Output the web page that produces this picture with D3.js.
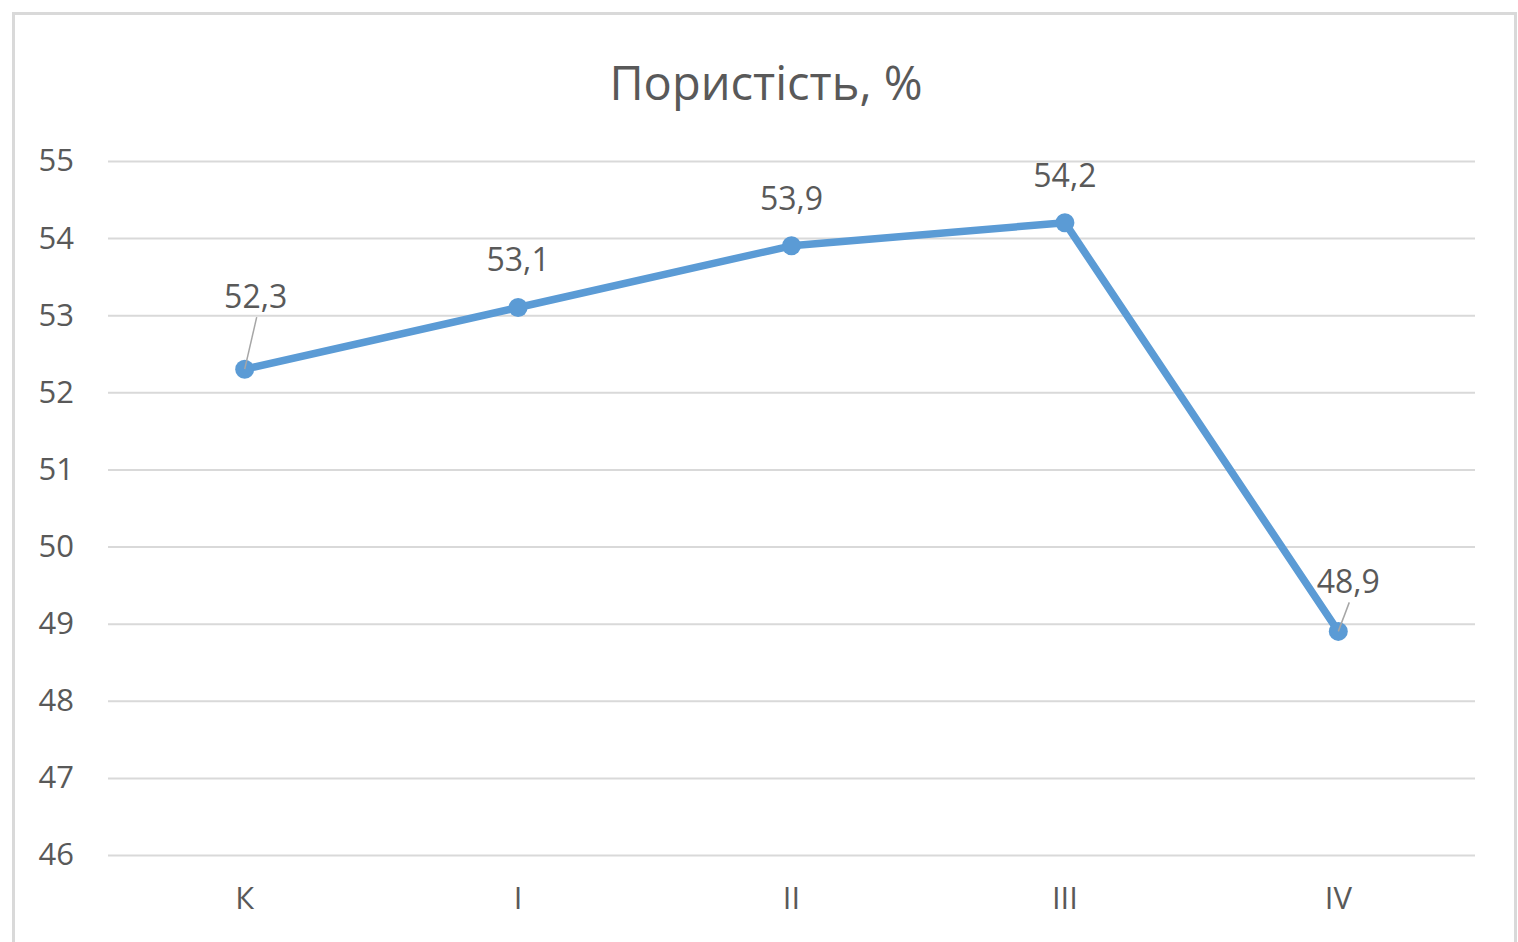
<!DOCTYPE html>
<html>
<head>
<meta charset="utf-8">
<script src="https://cdn.jsdelivr.net/npm/d3@7"></script>
<style>
  html, body { margin: 0; padding: 0; background: #fff; }
  svg { display: block; }
  text { font-family: "Open Sans", "Noto Sans", sans-serif; fill: #595959; }
</style>
</head>
<body>
<svg id="chart" width="1518" height="942"></svg>
<script>
// Porosity by sample group
const categories = ["К", "I", "II", "III", "IV"];
const porosity = [52.3, 53.1, 53.9, 54.2, 48.9];
const valueLabels = ["52,3", "53,1", "53,9", "54,2", "48,9"];
const yTicks = [46, 47, 48, 49, 50, 51, 52, 53, 54, 55];
const chartTitle = "Пористість, %";

const svg = d3.select("#chart");
const plot = { left: 108, right: 1475, top: 161, bottom: 855 };

// outer frame
svg.append("rect")
  .attr("x", 13.5).attr("y", 13.5)
  .attr("width", 1502).attr("height", 940)
  .attr("fill", "#fff").attr("stroke", "#d9d9d9").attr("stroke-width", 3);

const x = d3.scaleBand().domain(categories).range([plot.left, plot.right]);
const y = d3.scaleLinear().domain([46, 55]).range([plot.bottom, plot.top]);

// title
svg.append("text")
  .attr("x", 766).attr("y", 100)
  .attr("text-anchor", "middle")
  .style("font-size", "47px")
  .text(chartTitle);

// gridlines and y labels
const yAxis = d3.axisLeft(y).tickValues(yTicks).tickSize(-(plot.right - plot.left)).tickPadding(34)
  .tickFormat(d3.format("d"));
const gy = svg.append("g").attr("transform", `translate(${plot.left},0)`).call(yAxis);
gy.select(".domain").remove();
gy.selectAll(".tick line").attr("stroke", "#d9d9d9").attr("stroke-width", 2);
gy.selectAll(".tick text").style("font-size", "31px").attr("fill", "#595959");

// x labels
const xAxis = d3.axisBottom(x).tickSize(0).tickPadding(32);
const gx = svg.append("g").attr("transform", `translate(0,${plot.bottom})`).call(xAxis);
gx.select(".domain").remove();
gx.selectAll(".tick text").style("font-size", "31px").attr("fill", "#595959");

const pts = categories.map((c, i) => ({ c, v: porosity[i], label: valueLabels[i] }));
const cx = d => x(d.c) + x.bandwidth() / 2;

// series line
svg.append("path")
  .datum(pts)
  .attr("fill", "none")
  .attr("stroke", "#5b9bd5")
  .attr("stroke-width", 7.5)
  .attr("stroke-linejoin", "round")
  .attr("d", d3.line().x(cx).y(d => y(d.v)));

// markers
svg.selectAll("circle.pt").data(pts).enter().append("circle")
  .attr("class", "pt")
  .attr("cx", cx).attr("cy", d => y(d.v))
  .attr("r", 9.5)
  .attr("fill", "#5b9bd5");

// data labels (some moved with leader lines)
const labelShift = [ {dx: 11, dy: -72, leader: true}, {dx: 0, dy: -48}, {dx: 0, dy: -47}, {dx: 0, dy: -47}, {dx: 10, dy: -49, leader: true} ];
pts.forEach((d, i) => {
  const s = labelShift[i];
  const lx = cx(d) + s.dx, ly = y(d.v) + s.dy;
  if (s.leader) {
    svg.append("line")
      .attr("x1", lx + 1).attr("y1", ly + 20)
      .attr("x2", cx(d)).attr("y2", y(d.v))
      .attr("stroke", "#a6a6a6").attr("stroke-width", 1.5);
  }
  svg.append("text")
    .attr("x", lx).attr("y", ly + 11)
    .attr("text-anchor", "middle")
    .style("font-size", "32px")
    .attr("fill", "#404040")
    .text(d.label);
});
</script>
</body>
</html>
